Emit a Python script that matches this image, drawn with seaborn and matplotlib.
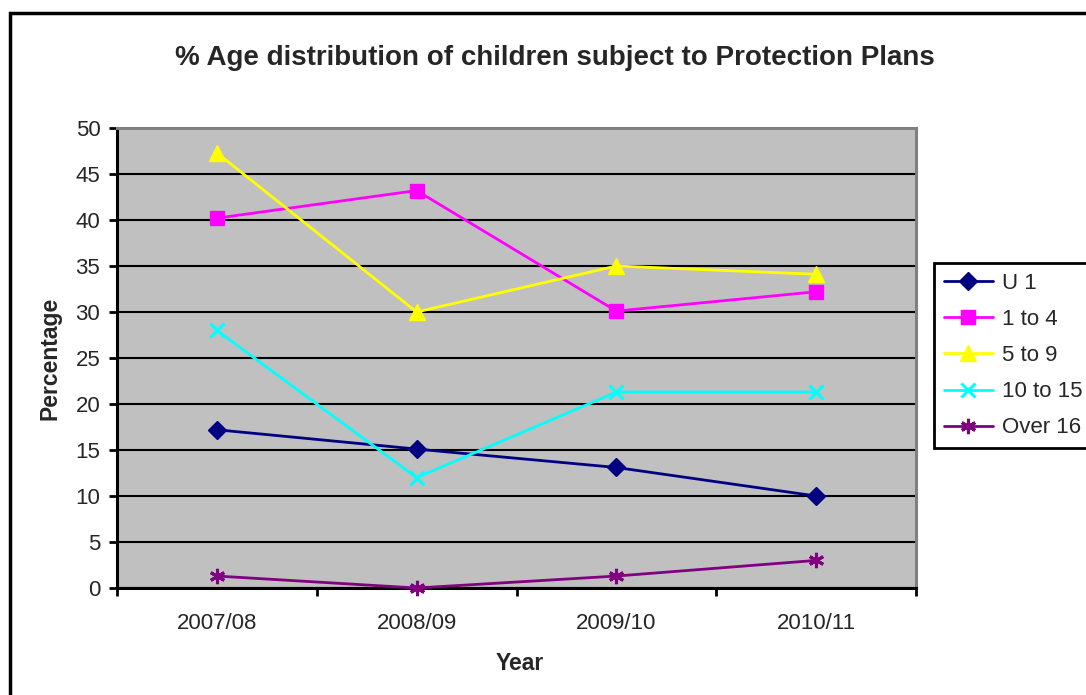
import matplotlib
matplotlib.use("Agg")
import matplotlib.pyplot as plt
from matplotlib.patches import Rectangle
import numpy as np
import pandas as pd
import seaborn as sns

# Survey years and share of children (percent) in each age band
years = ["2007/08", "2008/09", "2009/10", "2010/11"]
age_groups = ["U 1", "1 to 4", "5 to 9", "10 to 15", "Over 16"]
u1 = [17.2, 15.1, 13.1, 10.0]
age_1_4 = [40.2, 43.2, 30.1, 32.2]
age_5_9 = [47.3, 30.0, 35.0, 34.1]
age_10_15 = [28.0, 12.0, 21.3, 21.3]
over_16 = [1.3, 0.0, 1.3, 3.0]
y_ticks = list(range(0, 55, 5))

series = [u1, age_1_4, age_5_9, age_10_15, over_16]
colors = ["#000080", "#FF00FF", "#FFFF00", "#00FFFF", "#800080"]
markers = ["D", "s", "^", "x", (6, 2, 0)]
sizes = [9, 10, 11, 10, 11]

df = pd.DataFrame({
    "Year": np.tile(years, len(age_groups)),
    "Percentage": np.concatenate(series),
    "Age group": np.repeat(age_groups, len(years)),
})

sns.set_theme(style="white")
plt.rcParams["font.family"] = ["Liberation Sans", "DejaVu Sans"]

W, H = 1086, 695
fig = plt.figure(figsize=(W / 100, H / 100), dpi=100)
ax = fig.add_axes([117 / W, 1 - 588 / H, (916 - 117) / W, (588 - 128) / H])
ax.set_facecolor("#C0C0C0")

sns.lineplot(
    data=df, x="Year", y="Percentage", hue="Age group",
    palette=dict(zip(age_groups, colors)),
    errorbar=None, legend=False, ax=ax, linewidth=2.0,
)

# Excel-style markers, one shape per age band
for line, c, m, ms in zip(ax.lines, colors, markers, sizes):
    line.set_marker(m)
    line.set_markeredgecolor(c)
    line.set_markerfacecolor(c)
    line.set_markersize(ms)
    line.set_markeredgewidth(2.2 if m in ("x",) or isinstance(m, tuple) else 1.0)
    line.set_clip_on(False)
    line.set_zorder(5)

# Axes limits, grid and ticks
ax.set_xlim(-0.5, len(years) - 0.5)
ax.set_ylim(0, 50)
ax.set_yticks(y_ticks)
ax.yaxis.grid(True, color="black", linewidth=1.5)
ax.xaxis.grid(False)
ax.set_axisbelow(True)
ax.set_xticks(range(len(years)))
ax.set_xticklabels(years)
ax.set_xticks(np.arange(-0.5, len(years), 1.0), minor=True)
ax.tick_params(axis="x", which="major", length=0, pad=18, labelsize=16)
ax.tick_params(axis="x", which="minor", length=6, width=2, color="black",
               direction="out", bottom=True)
ax.tick_params(axis="y", length=6, width=2, color="black", direction="out",
               pad=6, labelsize=16, left=True)

for side in ("left", "bottom"):
    ax.spines[side].set_color("black")
    ax.spines[side].set_linewidth(2.2)
for side in ("top", "right"):
    ax.spines[side].set_color("#808080")
    ax.spines[side].set_linewidth(2.2)

ax.set_xlabel("")
ax.set_ylabel("")
fig.text(520 / W, 1 - 663 / H, "Year", ha="center", va="center",
         fontsize=16.5, fontweight="bold")
fig.text(50 / W, 1 - 358 / H, "Percentage", ha="center", va="center",
         rotation=90, fontsize=16.5, fontweight="bold")
fig.text(555 / W, 1 - 58 / H,
         "% Age distribution of children subject to Protection Plans",
         ha="center", va="center", fontsize=20, fontweight="bold")

# Legend to the right of the plot area
leg = fig.legend(
    ax.lines[:len(age_groups)], age_groups, loc="upper left",
    bbox_to_anchor=(934 / W, 1 - 263 / H), bbox_transform=fig.transFigure,
    frameon=True, fancybox=False, fontsize=16, handlelength=2.2,
    handletextpad=0.4, labelspacing=0.68, borderpad=0.45, borderaxespad=0,
)
leg.get_frame().set_edgecolor("black")
leg.get_frame().set_linewidth(2)
leg.get_frame().set_alpha(1)

# Chart border
fig.patches.append(Rectangle((10 / W, -0.2), 1.3, 1.2 - 13 / H,
                             transform=fig.transFigure, fill=False,
                             edgecolor="black", linewidth=2.5))

fig.savefig("out.png", dpi=100)
